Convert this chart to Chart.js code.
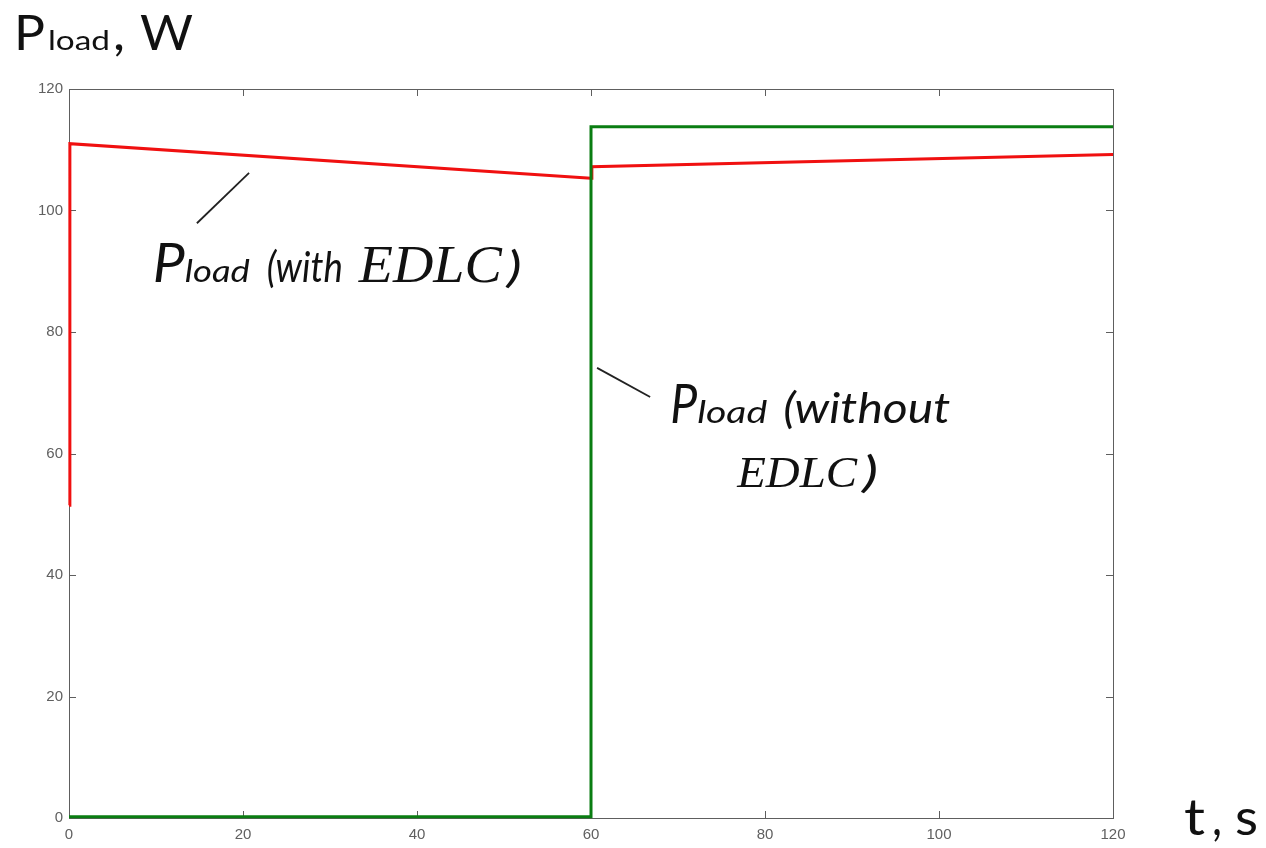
<!DOCTYPE html>
<html>
<head>
<meta charset="utf-8">
<script src="https://cdn.jsdelivr.net/npm/chart.js@4.4.1/dist/chart.umd.min.js"></script>
<style>
html,body{margin:0;padding:0;background:#fff;}
canvas{display:block;}
</style>
</head>
<body>
<canvas id="c" width="1266" height="848"></canvas>
<script>
// P_load vs time, with and without EDLC (MATLAB-style plot)
const xTicks=[0,20,40,60,80,100,120];
const yTicks=[0,20,40,60,80,100,120];

// red: load power with EDLC
const withT=[0,0.1,60,60.1,120];
const withP=[51.5,111,105.3,107.2,109.2];
// green: load power without EDLC
const woT=[0,60,60,120];
const woP=[0.2,0.2,113.8,113.8];

// annotation anchors in data units (t, P)
const lbl1={t:9.63,p:88.2};
const lbl2={t:69.1,p:65.0};
const lbl2b={t:76.8,p:54.5};
const lead1=[[14.7,97.9],[20.7,106.2]];
const lead2=[[60.7,74.1],[66.8,69.3]];

const SANS='Lato, "Open Sans", sans-serif';
const SERIF='"Liberation Serif", "DejaVu Serif", serif';

function pts(xs,ys){return xs.map((x,i)=>({x,y:ys[i]}));}

// draw text pieces one after another; each piece is squeezed/stretched to width w, g = gap before
function rich(ctx,x,y,segs){
  segs.forEach(s=>{
    x+=s.g||0;
    ctx.font=s.f;
    const m=ctx.measureText(s.t).width;
    const sx=s.w?s.w/m:1;
    ctx.save();ctx.translate(x,y);ctx.scale(sx,1);ctx.fillText(s.t,0,0);ctx.restore();
    x+=m*sx;
  });
}

const deco={
  id:'deco',
  beforeDatasetsDraw(chart){
    const {ctx,chartArea:a,scales:{x,y}}=chart;
    ctx.save();
    ctx.strokeStyle='#5e5e5e';ctx.lineWidth=1;
    ctx.strokeRect(a.left+0.5,a.top+0.5,a.right-a.left,a.bottom-a.top);
    ctx.beginPath();
    const tl=7;
    xTicks.forEach(v=>{const px=Math.round(x.getPixelForValue(v))+0.5;
      ctx.moveTo(px,a.bottom);ctx.lineTo(px,a.bottom-tl);
      ctx.moveTo(px,a.top);ctx.lineTo(px,a.top+tl);});
    yTicks.forEach(v=>{const py=Math.round(y.getPixelForValue(v))+0.5;
      ctx.moveTo(a.left,py);ctx.lineTo(a.left+tl,py);
      ctx.moveTo(a.right,py);ctx.lineTo(a.right-tl,py);});
    ctx.stroke();
    ctx.restore();
  },
  afterDraw(chart){
    const {ctx,scales:{x,y}}=chart;
    ctx.save();
    ctx.fillStyle='#111';ctx.textBaseline='alphabetic';
    // axis titles
    rich(ctx,14,50,[
      {t:'P',f:'48px '+SANS,w:31},{t:'load',f:'26px '+SANS,g:3,w:62},
      {t:',',f:'48px '+SANS,g:3,w:12},{t:'W',f:'48px '+SANS,g:15,w:53}]);
    rich(ctx,1184,835,[
      {t:'t',f:'50px '+SANS,w:21},{t:',',f:'50px '+SANS,g:7,w:10},{t:'s',f:'50px '+SANS,g:13,w:23}]);
    // leader lines
    ctx.strokeStyle='#222';ctx.lineWidth=1.8;
    [lead1,lead2].forEach(l=>{ctx.beginPath();
      ctx.moveTo(x.getPixelForValue(l[0][0]),y.getPixelForValue(l[0][1]));
      ctx.lineTo(x.getPixelForValue(l[1][0]),y.getPixelForValue(l[1][1]));ctx.stroke();});
    // curve labels
    rich(ctx,x.getPixelForValue(lbl1.t),y.getPixelForValue(lbl1.p),[
      {t:'P',f:'italic 54px '+SANS,w:32},{t:'load',f:'italic 30px '+SANS,w:65},
      {t:'(with',f:'italic 42px '+SANS,g:17,w:76},{t:'EDLC',f:'italic 52px '+SERIF,g:16,w:143},
      {t:')',f:'italic 42px '+SANS,g:5,w:15}]);
    rich(ctx,x.getPixelForValue(lbl2.t),y.getPixelForValue(lbl2.p),[
      {t:'P',f:'italic 54px '+SANS,w:27},{t:'load',f:'italic 30px '+SANS,w:70},
      {t:'(without',f:'italic 42px '+SANS,g:16,w:167}]);
    rich(ctx,x.getPixelForValue(lbl2b.t),y.getPixelForValue(lbl2b.p),[
      {t:'EDLC',f:'italic 45px '+SERIF,w:120},{t:')',f:'italic 42px '+SANS,g:5,w:16}]);
    ctx.restore();
  }
};

new Chart(document.getElementById('c'),{
  type:'scatter',
  data:{datasets:[
    {label:'P_load (without EDLC)',data:pts(woT,woP),showLine:true,borderColor:'#0a7d12',borderWidth:3,pointRadius:0,tension:0,clip:4},
    {label:'P_load (with EDLC)',data:pts(withT,withP),showLine:true,borderColor:'#f01010',borderWidth:3,pointRadius:0,tension:0,clip:4}
  ]},
  options:{
    responsive:false,animation:false,
    layout:{padding:{top:89,right:153,left:0,bottom:0}},
    plugins:{legend:{display:false},tooltip:{enabled:false}},
    scales:{
      x:{type:'linear',min:0,max:120,
        afterBuildTicks(s){s.ticks=xTicks.map(v=>({value:v}));},
        afterFit(s){s.height=30;},
        grid:{display:false,drawTicks:false},border:{display:false},
        ticks:{color:'#606060',font:{size:15,family:'"Liberation Sans", Arial, sans-serif'},padding:8,maxRotation:0}},
      y:{type:'linear',min:0,max:120,
        afterBuildTicks(s){s.ticks=yTicks.map(v=>({value:v}));},
        afterFit(s){s.width=69;},
        grid:{display:false,drawTicks:false},border:{display:false},
        ticks:{color:'#606060',font:{size:15,family:'"Liberation Sans", Arial, sans-serif'},padding:6}}
    }
  },
  plugins:[deco]
});
</script>
</body>
</html>
